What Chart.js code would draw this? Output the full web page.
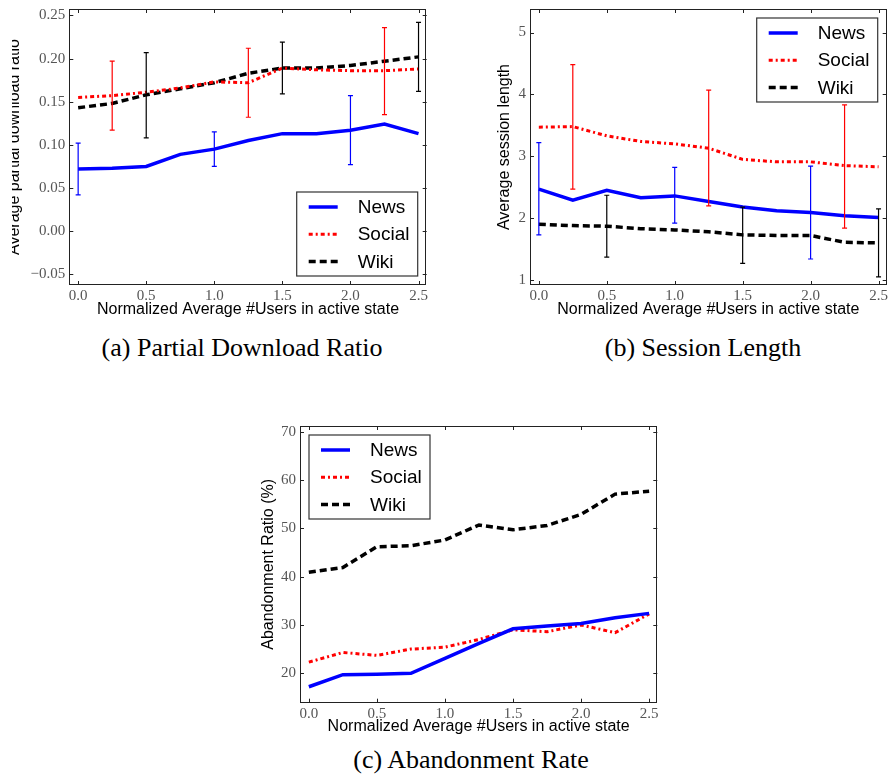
<!DOCTYPE html>
<html>
<head>
<meta charset="utf-8">
<script src="https://cdn.jsdelivr.net/npm/chart.js@4.4.0/dist/chart.umd.min.js"></script>
<style>
  body { margin: 0; background: #fff; width: 888px; height: 778px; position: relative; overflow: hidden; }
  canvas { position: absolute; }
  .cap { position: absolute; font-family: "Liberation Serif", serif; font-size: 26px; color: #000;
         transform: translate(-50%, -50%); white-space: nowrap; }
</style>
</head>
<body>
<canvas id="chartA" width="428" height="320" style="left:12px;top:0px"></canvas>
<canvas id="chartB" width="444" height="320" style="left:444px;top:0px"></canvas>
<canvas id="chartC" width="420" height="330" style="left:250px;top:410px"></canvas>
<div class="cap" style="left:242px;top:348px">(a) Partial Download Ratio</div>
<div class="cap" style="left:703px;top:348px">(b) Session Length</div>
<div class="cap" style="left:471px;top:760px">(c) Abandonment Rate</div>
<script>
// shared x values and names
const xVals = [0, 0.25, 0.5, 0.75, 1.0, 1.25, 1.5, 1.75, 2.0, 2.25, 2.5];
const seriesNames = ["News", "Social", "Wiki"];
const xTitle = "Normalized Average #Users in active state";
const xRange = [-0.065, 2.56];

// (a) partial download ratio
const ratioNews   = [0.072, 0.073, 0.075, 0.089, 0.095, 0.105, 0.113, 0.113, 0.117, 0.124, 0.113];
const ratioSocial = [0.155, 0.157, 0.161, 0.166, 0.173, 0.172, 0.189, 0.187, 0.186, 0.186, 0.188];
const ratioWiki   = [0.143, 0.148, 0.158, 0.165, 0.172, 0.183, 0.189, 0.189, 0.192, 0.197, 0.202];
// error bars: [x, low, high]
const ratioNewsErr   = [[0, 0.042, 0.102], [1.0, 0.075, 0.115], [2.0, 0.077, 0.157]];
const ratioSocialErr = [[0.25, 0.117, 0.197], [1.25, 0.132, 0.212], [2.25, 0.135, 0.236]];
const ratioWikiErr   = [[0.5, 0.108, 0.207], [1.5, 0.159, 0.219], [2.5, 0.162, 0.242]];
const ratioRange = [-0.0625, 0.2575];

// (b) session length
const sessNews   = [2.47, 2.29, 2.45, 2.33, 2.36, 2.27, 2.18, 2.12, 2.09, 2.04, 2.01];
const sessSocial = [3.47, 3.48, 3.33, 3.24, 3.20, 3.13, 2.95, 2.91, 2.91, 2.85, 2.83];
const sessWiki   = [1.90, 1.88, 1.87, 1.83, 1.81, 1.78, 1.73, 1.72, 1.72, 1.61, 1.60];
const sessNewsErr   = [[0, 1.73, 3.22], [1.0, 1.92, 2.82], [2.0, 1.34, 2.84]];
const sessSocialErr = [[0.25, 2.47, 4.48], [1.25, 2.20, 4.07], [2.25, 1.84, 3.83]];
const sessWikiErr   = [[0.5, 1.37, 2.37], [1.5, 1.27, 2.18], [2.5, 1.05, 2.15]];
const sessRange = [0.92, 5.38];

// (c) abandonment ratio (%)
const abanNews   = [17.2, 19.7, 19.8, 20.0, 23.1, 26.2, 29.2, 29.8, 30.3, 31.5, 32.4];
const abanSocial = [22.3, 24.3, 23.7, 25.0, 25.4, 27.0, 29.0, 28.6, 30.0, 28.4, 32.3];
const abanWiki   = [40.9, 41.9, 46.2, 46.4, 47.6, 50.7, 49.7, 50.6, 52.9, 57.1, 57.7];
const abanRange = [13.9, 71.2];

const lineStyles = [
  { borderColor: "#0000ff", borderWidth: 3.5, borderDash: [] },
  { borderColor: "#ff0000", borderWidth: 3, borderDash: [4, 3, 2, 3] },
  { borderColor: "#000000", borderWidth: 3.5, borderDash: [7, 4] }
];

const tickFont = { family: "Liberation Serif", size: 15 };
const labelFont = { family: "Liberation Sans", size: 16 };

// frame, inward ticks, error bars and boxed legend, matplotlib style
const framePlugin = {
  id: "frame",
  afterDatasetsDraw(chart) {
    const ctx = chart.ctx, xs = chart.scales.x, ys = chart.scales.y;
    chart.data.datasets.forEach(ds => {
      if (!ds.errorBars) return;
      ctx.save();
      ctx.strokeStyle = ds.borderColor;
      ctx.lineWidth = 1.2;
      ds.errorBars.forEach(([x, lo, hi]) => {
        const px = xs.getPixelForValue(x);
        const p1 = ys.getPixelForValue(lo), p2 = ys.getPixelForValue(hi);
        ctx.beginPath();
        ctx.moveTo(px, p1); ctx.lineTo(px, p2);
        ctx.moveTo(px - 2.5, p1); ctx.lineTo(px + 2.5, p1);
        ctx.moveTo(px - 2.5, p2); ctx.lineTo(px + 2.5, p2);
        ctx.stroke();
      });
      ctx.restore();
    });
  },
  afterDraw(chart, args, opts) {
    const ctx = chart.ctx, a = chart.chartArea;
    const xs = chart.scales.x, ys = chart.scales.y;
    ctx.save();
    ctx.strokeStyle = "#222";
    ctx.lineWidth = 1;
    ctx.strokeRect(Math.round(a.left) + 0.5, Math.round(a.top) + 0.5,
                   Math.round(a.width) - 1, Math.round(a.height) - 1);
    ctx.beginPath();
    xs.ticks.forEach(t => {
      const p = Math.round(xs.getPixelForValue(t.value)) + 0.5;
      ctx.moveTo(p, a.bottom); ctx.lineTo(p, a.bottom - 4);
      ctx.moveTo(p, a.top); ctx.lineTo(p, a.top + 4);
    });
    ys.ticks.forEach(t => {
      const p = Math.round(ys.getPixelForValue(t.value)) + 0.5;
      ctx.moveTo(a.left, p); ctx.lineTo(a.left + 4, p);
      ctx.moveTo(a.right, p); ctx.lineTo(a.right - 4, p);
    });
    ctx.stroke();

    // legend box
    const w = 121, h = 84, m = 9;
    const left = opts.corner.includes("r") ? a.right - m - w : a.left + m;
    const top = opts.corner.includes("b") ? a.bottom - m - h : a.top + m;
    ctx.fillStyle = "#fff";
    ctx.fillRect(left, top, w, h);
    ctx.strokeStyle = "#333";
    ctx.lineWidth = 1.2;
    ctx.strokeRect(left, top, w, h);
    ctx.font = '19px "Liberation Sans"';
    ctx.textBaseline = "middle";
    chart.data.datasets.forEach((ds, i) => {
      const y = top + 15 + i * 27.2;
      ctx.strokeStyle = ds.borderColor;
      ctx.lineWidth = ds.borderWidth;
      ctx.setLineDash(ds.borderDash);
      ctx.beginPath();
      ctx.moveTo(left + 12, y); ctx.lineTo(left + 41, y);
      ctx.stroke();
      ctx.setLineDash([]);
      ctx.fillStyle = "#000";
      ctx.fillText(ds.label, left + 61, y + 1);
    });
    ctx.restore();
  }
};

function fmt(v, d) {
  return v.toFixed(d).replace("-", "\u2212");
}

function makeChart(id, cfg) {
  const datasets = cfg.series.map((vals, i) => Object.assign({
    label: seriesNames[i],
    data: vals.map((v, j) => ({ x: xVals[j], y: v })),
    errorBars: cfg.errors ? cfg.errors[i] : null,
    pointRadius: 0,
    tension: 0,
    fill: false
  }, lineStyles[i]));

  return new Chart(document.getElementById(id), {
    type: "line",
    data: { datasets: datasets },
    options: {
      responsive: false,
      animation: false,
      layout: { padding: cfg.pad },
      plugins: {
        legend: { display: false },
        tooltip: { enabled: false },
        frame: { corner: cfg.corner }
      },
      scales: {
        x: {
          type: "linear",
          min: xRange[0], max: xRange[1],
          grid: { display: false, drawTicks: false },
          border: { display: false },
          ticks: {
            stepSize: 0.5, includeBounds: false, autoSkip: false, maxRotation: 0,
            padding: 2, font: tickFont, color: "#555",
            callback: v => fmt(v, 1)
          },
          title: { display: true, text: xTitle, font: labelFont, color: "#000",
                   padding: { top: 0, bottom: cfg.xtPad } },
          afterFit(s) { s.height = cfg.xH; s.paddingLeft = 0; s.paddingRight = 0; }
        },
        y: {
          min: cfg.yRange[0], max: cfg.yRange[1],
          grid: { display: false, drawTicks: false },
          border: { display: false },
          ticks: {
            stepSize: cfg.yStep, includeBounds: false, autoSkip: false,
            padding: 4, font: tickFont, color: "#555",
            callback: v => fmt(v, cfg.yDec)
          },
          title: { display: true, text: cfg.yTitle, font: labelFont, color: "#000",
                   padding: { top: cfg.ytPad, bottom: 0 } },
          afterFit(s) { s.width = cfg.yW; s.paddingTop = 0; s.paddingBottom = 0; }
        }
      }
    },
    plugins: [framePlugin]
  });
}

makeChart("chartA", {
  series: [ratioNews, ratioSocial, ratioWiki],
  errors: [ratioNewsErr, ratioSocialErr, ratioWikiErr],
  yRange: ratioRange, yStep: 0.05, yDec: 2,
  yTitle: "Average partial download ratio",
  pad: { left: 0, top: 9, right: 13.3, bottom: 0 },
  yW: 57.3, xH: 35, ytPad: -7.2, xtPad: 0.9, corner: "br"
});

makeChart("chartB", {
  series: [sessNews, sessSocial, sessWiki],
  errors: [sessNewsErr, sessSocialErr, sessWikiErr],
  yRange: sessRange, yStep: 1, yDec: 0,
  yTitle: "Average session length",
  pad: { left: 0, top: 9, right: 1.3, bottom: 0 },
  yW: 86, xH: 35, ytPad: 51.4, xtPad: 0.9, corner: "tr"
});

makeChart("chartC", {
  series: [abanNews, abanSocial, abanWiki],
  errors: null,
  yRange: abanRange, yStep: 10, yDec: 0,
  yTitle: "Abandonment Ratio (%)",
  pad: { left: 0, top: 16, right: 12.7, bottom: 0 },
  yW: 50, xH: 37.3, ytPad: 9.4, xtPad: 3.4, corner: "tl"
});
</script>
</body>
</html>
